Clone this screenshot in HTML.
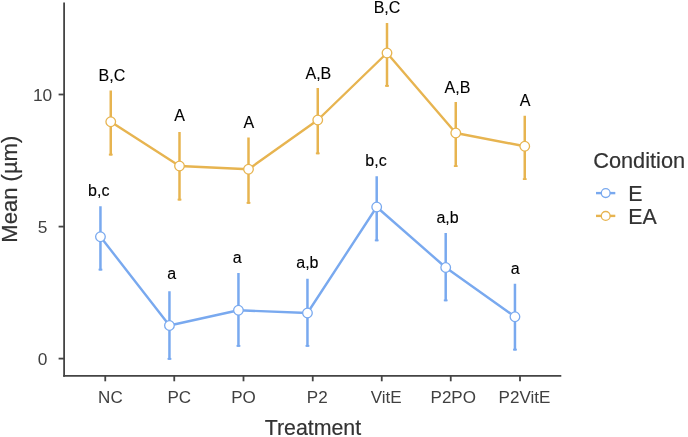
<!DOCTYPE html><html><head><meta charset="utf-8"><title>Plot</title><style>html,body{margin:0;padding:0;background:#fff}svg{display:block}text{font-family:"Liberation Sans",Arial,sans-serif}</style></head><body>
<svg width="688" height="437" viewBox="0 0 688 437">
<rect width="688" height="437" fill="#fff"/>
<line x1="100.45" y1="206.25" x2="100.45" y2="270.5" stroke="#79A9EF" stroke-width="2.5"/>
<rect x="98.55" y="268.7" width="3.8" height="1.8" fill="#79A9EF"/>
<line x1="169.45" y1="291.25" x2="169.45" y2="359.75" stroke="#79A9EF" stroke-width="2.5"/>
<rect x="167.54999999999998" y="357.95" width="3.8" height="1.8" fill="#79A9EF"/>
<line x1="238.45" y1="273" x2="238.45" y2="346.75" stroke="#79A9EF" stroke-width="2.5"/>
<rect x="236.54999999999998" y="344.95" width="3.8" height="1.8" fill="#79A9EF"/>
<line x1="307.45" y1="278.75" x2="307.45" y2="346.75" stroke="#79A9EF" stroke-width="2.5"/>
<rect x="305.55" y="344.95" width="3.8" height="1.8" fill="#79A9EF"/>
<line x1="376.7" y1="176.25" x2="376.7" y2="241.25" stroke="#79A9EF" stroke-width="2.5"/>
<rect x="374.8" y="239.45" width="3.8" height="1.8" fill="#79A9EF"/>
<line x1="445.7" y1="233" x2="445.7" y2="301.25" stroke="#79A9EF" stroke-width="2.5"/>
<rect x="443.8" y="299.45" width="3.8" height="1.8" fill="#79A9EF"/>
<line x1="514.95" y1="283.75" x2="514.95" y2="350.5" stroke="#79A9EF" stroke-width="2.5"/>
<rect x="513.0500000000001" y="348.7" width="3.8" height="1.8" fill="#79A9EF"/>
<polyline fill="none" stroke="#79A9EF" stroke-width="2.4" stroke-linejoin="round" points="100.45,236.75 169.45,325.5 238.45,310.25 307.45,313 376.7,207 445.7,267.5 514.95,316.75"/>
<circle cx="100.45" cy="236.75" r="4.8" fill="#fff" stroke="#79A9EF" stroke-width="1.3"/>
<circle cx="169.45" cy="325.5" r="4.8" fill="#fff" stroke="#79A9EF" stroke-width="1.3"/>
<circle cx="238.45" cy="310.25" r="4.8" fill="#fff" stroke="#79A9EF" stroke-width="1.3"/>
<circle cx="307.45" cy="313" r="4.8" fill="#fff" stroke="#79A9EF" stroke-width="1.3"/>
<circle cx="376.7" cy="207" r="4.8" fill="#fff" stroke="#79A9EF" stroke-width="1.3"/>
<circle cx="445.7" cy="267.5" r="4.8" fill="#fff" stroke="#79A9EF" stroke-width="1.3"/>
<circle cx="514.95" cy="316.75" r="4.8" fill="#fff" stroke="#79A9EF" stroke-width="1.3"/>
<line x1="110.75" y1="90.5" x2="110.75" y2="155.5" stroke="#E7B450" stroke-width="2.5"/>
<rect x="108.85" y="153.7" width="3.8" height="1.8" fill="#E7B450"/>
<line x1="179.5" y1="132" x2="179.5" y2="200.5" stroke="#E7B450" stroke-width="2.5"/>
<rect x="177.6" y="198.7" width="3.8" height="1.8" fill="#E7B450"/>
<line x1="248.5" y1="137.5" x2="248.5" y2="203.75" stroke="#E7B450" stroke-width="2.5"/>
<rect x="246.6" y="201.95" width="3.8" height="1.8" fill="#E7B450"/>
<line x1="317.75" y1="88" x2="317.75" y2="154.25" stroke="#E7B450" stroke-width="2.5"/>
<rect x="315.85" y="152.45" width="3.8" height="1.8" fill="#E7B450"/>
<line x1="387" y1="23" x2="387" y2="86.75" stroke="#E7B450" stroke-width="2.5"/>
<rect x="385.1" y="84.95" width="3.8" height="1.8" fill="#E7B450"/>
<line x1="455.75" y1="102" x2="455.75" y2="167" stroke="#E7B450" stroke-width="2.5"/>
<rect x="453.85" y="165.2" width="3.8" height="1.8" fill="#E7B450"/>
<line x1="524.75" y1="115.75" x2="524.75" y2="180" stroke="#E7B450" stroke-width="2.5"/>
<rect x="522.85" y="178.2" width="3.8" height="1.8" fill="#E7B450"/>
<polyline fill="none" stroke="#E7B450" stroke-width="2.4" stroke-linejoin="round" points="110.75,121.75 179.5,166 248.5,169.25 317.75,120 387,53 455.75,133 524.75,146.25"/>
<circle cx="110.75" cy="121.75" r="4.8" fill="#fff" stroke="#E7B450" stroke-width="1.3"/>
<circle cx="179.5" cy="166" r="4.8" fill="#fff" stroke="#E7B450" stroke-width="1.3"/>
<circle cx="248.5" cy="169.25" r="4.8" fill="#fff" stroke="#E7B450" stroke-width="1.3"/>
<circle cx="317.75" cy="120" r="4.8" fill="#fff" stroke="#E7B450" stroke-width="1.3"/>
<circle cx="387" cy="53" r="4.8" fill="#fff" stroke="#E7B450" stroke-width="1.3"/>
<circle cx="455.75" cy="133" r="4.8" fill="#fff" stroke="#E7B450" stroke-width="1.3"/>
<circle cx="524.75" cy="146.25" r="4.8" fill="#fff" stroke="#E7B450" stroke-width="1.3"/>
<line x1="64.1" y1="2.6" x2="64.1" y2="376.7" stroke="#444444" stroke-width="1.8"/>
<line x1="63.2" y1="375.8" x2="561.3" y2="375.8" stroke="#444444" stroke-width="1.8"/>
<line x1="105.25" y1="375.8" x2="105.25" y2="381.3" stroke="#444444" stroke-width="1.8"/>
<line x1="174.25" y1="375.8" x2="174.25" y2="381.3" stroke="#444444" stroke-width="1.8"/>
<line x1="243.5" y1="375.8" x2="243.5" y2="381.3" stroke="#444444" stroke-width="1.8"/>
<line x1="312.75" y1="375.8" x2="312.75" y2="381.3" stroke="#444444" stroke-width="1.8"/>
<line x1="381.75" y1="375.8" x2="381.75" y2="381.3" stroke="#444444" stroke-width="1.8"/>
<line x1="450.75" y1="375.8" x2="450.75" y2="381.3" stroke="#444444" stroke-width="1.8"/>
<line x1="520" y1="375.8" x2="520" y2="381.3" stroke="#444444" stroke-width="1.8"/>
<line x1="58.6" y1="358.6" x2="64.1" y2="358.6" stroke="#444444" stroke-width="1.8"/>
<line x1="58.6" y1="226.6" x2="64.1" y2="226.6" stroke="#444444" stroke-width="1.8"/>
<line x1="58.6" y1="94.5" x2="64.1" y2="94.5" stroke="#444444" stroke-width="1.8"/>
<text x="110.4" y="403.1" font-size="17.05" fill="#404040" text-anchor="middle">NC</text>
<text x="179.25" y="403.1" font-size="17.05" fill="#404040" text-anchor="middle">PC</text>
<text x="243.5" y="403.1" font-size="17.05" fill="#404040" text-anchor="middle">PO</text>
<text x="317.25" y="403.1" font-size="17.05" fill="#404040" text-anchor="middle">P2</text>
<text x="386.25" y="403.1" font-size="17.05" fill="#404040" text-anchor="middle">VitE</text>
<text x="453.25" y="403.1" font-size="17.05" fill="#404040" text-anchor="middle">P2PO</text>
<text x="524.5" y="403.1" font-size="17.05" fill="#404040" text-anchor="middle">P2VitE</text>
<text x="42.6" y="364.8" font-size="17.33" fill="#404040" text-anchor="middle">0</text>
<text x="42.6" y="232.79999999999998" font-size="17.33" fill="#404040" text-anchor="middle">5</text>
<text x="42.6" y="100.7" font-size="17.33" fill="#404040" text-anchor="middle">10</text>
<text x="98.75" y="196" font-size="16" fill="#000" stroke="#000" stroke-width="0.12" text-anchor="middle">b,c</text>
<text x="171.75" y="278.75" font-size="16" fill="#000" stroke="#000" stroke-width="0.12" text-anchor="middle">a</text>
<text x="237.2" y="263.25" font-size="16" fill="#000" stroke="#000" stroke-width="0.12" text-anchor="middle">a</text>
<text x="307.4" y="268.25" font-size="16" fill="#000" stroke="#000" stroke-width="0.12" text-anchor="middle">a,b</text>
<text x="376" y="166.25" font-size="16" fill="#000" stroke="#000" stroke-width="0.12" text-anchor="middle">b,c</text>
<text x="447.6" y="223.25" font-size="16" fill="#000" stroke="#000" stroke-width="0.12" text-anchor="middle">a,b</text>
<text x="515.25" y="273.5" font-size="16" fill="#000" stroke="#000" stroke-width="0.12" text-anchor="middle">a</text>
<text x="111.9" y="80.5" font-size="16" fill="#000" stroke="#000" stroke-width="0.12" text-anchor="middle">B,C</text>
<text x="179.5" y="121" font-size="16" fill="#000" stroke="#000" stroke-width="0.12" text-anchor="middle">A</text>
<text x="248.75" y="128" font-size="16" fill="#000" stroke="#000" stroke-width="0.12" text-anchor="middle">A</text>
<text x="318.4" y="78.75" font-size="16" fill="#000" stroke="#000" stroke-width="0.12" text-anchor="middle">A,B</text>
<text x="387" y="12.5" font-size="16" fill="#000" stroke="#000" stroke-width="0.12" text-anchor="middle">B,C</text>
<text x="457.5" y="92.5" font-size="16" fill="#000" stroke="#000" stroke-width="0.12" text-anchor="middle">A,B</text>
<text x="525.1" y="106.25" font-size="16" fill="#000" stroke="#000" stroke-width="0.12" text-anchor="middle">A</text>
<text x="312.9" y="435" font-size="21.33" fill="#333" stroke="#333" stroke-width="0.2" text-anchor="middle">Treatment</text>
<text transform="translate(17.0,189.2) rotate(-90)" font-size="22.05" fill="#333" stroke="#333" stroke-width="0.2" text-anchor="middle">Mean (µm)</text>
<text x="593.2" y="167.9" font-size="21.75" fill="#333" stroke="#333" stroke-width="0.2">Condition</text>
<line x1="596" y1="193.1" x2="615.3" y2="193.1" stroke="#79A9EF" stroke-width="2.4"/>
<circle cx="605.7" cy="193.1" r="4.4" fill="#fff" stroke="#79A9EF" stroke-width="1.3"/>
<text x="628.2" y="201.1" font-size="21.33" fill="#333" stroke="#333" stroke-width="0.2">E</text>
<line x1="596" y1="215.9" x2="615.3" y2="215.9" stroke="#E7B450" stroke-width="2.4"/>
<circle cx="605.7" cy="215.9" r="4.4" fill="#fff" stroke="#E7B450" stroke-width="1.3"/>
<text x="628.2" y="223.6" font-size="21.33" fill="#333" stroke="#333" stroke-width="0.2">EA</text>
</svg></body></html>
